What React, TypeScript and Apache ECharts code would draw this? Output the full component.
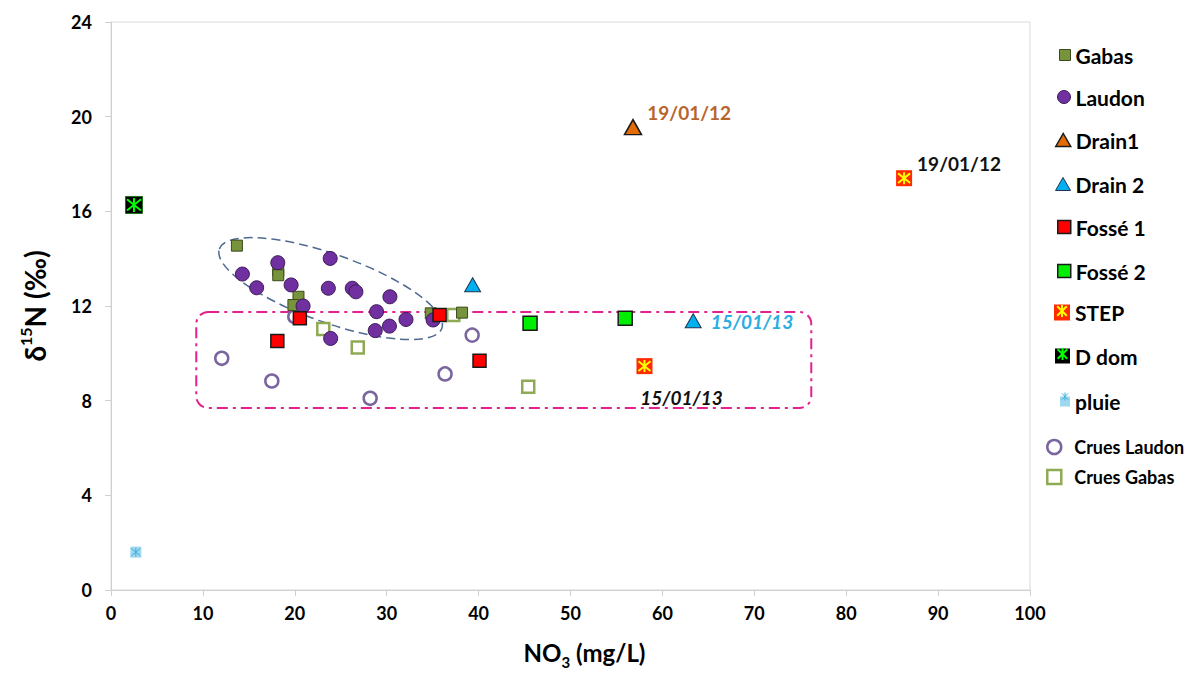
import React, { useEffect, useRef } from "react";
import * as echarts from "echarts";

// ---------- data (x = NO3 mg/L, y = δ15N ‰) ----------
const gabas = [[13.7, 14.55], [18.2, 13.5], [18.2, 13.3], [20.4, 12.39], [19.85, 12.04], [34.8, 11.69], [38.2, 11.72]];
const laudon = [
  [14.3, 13.35], [15.85, 12.77], [18.15, 13.83], [19.6, 12.89], [20.9, 12.0], [23.85, 14.01],
  [23.65, 12.75], [23.9, 10.63], [26.25, 12.75], [26.65, 12.6], [28.9, 11.76], [28.75, 10.96],
  [30.3, 11.15], [30.35, 12.39], [32.1, 11.43], [35.05, 11.41],
];
const drain1 = [[56.8, 19.56]];
const drain2 = [[39.35, 12.9], [63.35, 11.38]];
const fosse1 = [[18.1, 10.52], [20.55, 11.48], [35.75, 11.62], [40.1, 9.69]];
const fosse2 = [[45.6, 11.27], [55.95, 11.48]];
const step = [[58.05, 9.46], [86.3, 17.4]];
const dDom = [[2.5, 16.27]];
const pluie = [[2.7, 1.6]];
const cruesLaudon = [[12.05, 9.79], [17.5, 8.83], [20.0, 11.55], [28.2, 8.1], [36.35, 9.13], [39.3, 10.77]];
const cruesGabas = [[23.1, 11.03], [26.85, 10.25], [37.25, 11.62], [45.4, 8.59]];

const drain1Notes = ["19/01/12"];
const drain2Notes = ["", "15/01/13"];
const stepNotes = ["15/01/13", "19/01/12"];

const xTicks = { min: 0, max: 100, interval: 10 };
const yTicks = { min: 0, max: 24, interval: 4 };

// annotation shapes in data coordinates
const ellipseTips = [[11.8, 14.41], [36.0, 11.06]];
const boxCorners = [[9.28, 11.75], [76.2, 7.69]];

// ---------- styles ----------
const FONT = "Lato";
const ASTERISK = "path://M5,0L5,10M1,1L9,9M9,1L1,9";

type Row = { name: string; y: number; w: number; h: number; bw: number; crue?: boolean };
const legendRows: Row[] = [
  { name: "Gabas", y: 55, w: 11, h: 11, bw: 1 },
  { name: "Laudon", y: 98, w: 13, h: 13, bw: 1 },
  { name: "Drain1", y: 141, w: 15, h: 13, bw: 1.5 },
  { name: "Drain 2", y: 185, w: 15, h: 13, bw: 1 },
  { name: "Fossé 1", y: 228, w: 13, h: 13, bw: 1.5 },
  { name: "Fossé 2", y: 272, w: 13, h: 13, bw: 1.5 },
  { name: "STEP", y: 315, w: 16, h: 16, bw: 0 },
  { name: "D dom", y: 358, w: 15, h: 15, bw: 0 },
  { name: "pluie", y: 401, w: 10, h: 10, bw: 0 },
  { name: "Crues Laudon", y: 446, w: 14, h: 14, bw: 2.5, crue: true },
  { name: "Crues Gabas", y: 476, w: 14, h: 14, bw: 2.5, crue: true },
];
const overlayRows = [
  { name: "STEP*", base: "STEP", w: 12, h: 12 },
  { name: "D dom*", base: "D dom", w: 12, h: 12 },
  { name: "pluie*", base: "pluie", w: 8, h: 8 },
];
const LEGEND_SHIFT = -5;

function buildLegends() {
  const legends: any[] = [];
  legendRows.forEach((r) => {
    const textStart = r.crue ? 1073 : 1075;
    const left = r.crue ? 1046 : textStart - 5 - r.w;
    legends.push({
      data: [r.name],
      orient: "vertical",
      left,
      top: r.y - r.h / 2 + (r.crue ? -1 : LEGEND_SHIFT),
      padding: 0,
      itemWidth: r.w,
      itemHeight: r.h,
      selectedMode: false,
      itemStyle: { borderWidth: r.bw },
      textStyle: {
        fontFamily: FONT,
        fontWeight: "bold",
        fontSize: r.crue ? 18 : 21,
        color: "#000",
        padding: r.crue ? [0, 0, 0, 8] : 0,
      },
    });
  });
  overlayRows.forEach((o) => {
    const r = legendRows.find((x) => x.name === o.base)!;
    const left = 1075 - 5 - r.w + (r.w - o.w) / 2;
    legends.push({
      data: [o.name],
      left,
      top: r.y - o.h / 2 + LEGEND_SHIFT,
      padding: 0,
      itemWidth: o.w,
      itemHeight: o.h,
      selectedMode: false,
      formatter: () => "",
      itemStyle: { borderWidth: o.base === "pluie" ? 1 : 2 },
      textStyle: { fontSize: 1 },
    });
  });
  return legends;
}

const noteStyle = { fontFamily: FONT, fontWeight: "bold" as const, fontSize: 19 };

function withNotes(data: number[][], notes: string[], cfg: any[]) {
  return data.map((d, i) =>
    notes[i]
      ? { value: d, label: { show: true, formatter: notes[i], ...noteStyle, ...cfg[i] } }
      : { value: d }
  );
}

function buildOption(): any {
  return {
    animation: false,
    backgroundColor: "#ffffff",
    grid: {
      left: 111,
      right: 162,
      top: 22,
      bottom: 83,
      outerBoundsMode: "none",
      containLabel: false,
      show: true,
      borderColor: "#d9d9d9",
      borderWidth: 1,
      backgroundColor: "transparent",
    },
    legend: buildLegends(),
    xAxis: {
      type: "value",
      ...xTicks,
      name: "{a|NO}{s|3}{a| (mg/L)}",
      nameLocation: "middle",
      nameGap: 46,
      nameTextStyle: {
        padding: [0, 0, 0, 28],
        rich: {
          a: { fontFamily: FONT, fontWeight: "bold", fontSize: 24, color: "#000", lineHeight: 28, verticalAlign: "bottom" },
          s: { fontFamily: FONT, fontWeight: "bold", fontSize: 15, color: "#000", lineHeight: 14, verticalAlign: "bottom", padding: [0, 0, -5, 0] },
        },
      },
      splitLine: { show: false },
      axisLine: { show: true, lineStyle: { color: "#d0d0d0", width: 1 } },
      axisTick: { show: true, inside: false, length: 6, lineStyle: { color: "#d0d0d0" } },
      axisLabel: { fontFamily: FONT, fontWeight: "bold", fontSize: 18, color: "#000", margin: 14 },
    },
    yAxis: {
      type: "value",
      ...yTicks,
      name: "{a|δ}{s|15}{a|N (‰)}",
      nameLocation: "middle",
      nameGap: 62,
      nameRotate: 90,
      nameTextStyle: {
        rich: {
          a: { fontFamily: FONT, fontWeight: "bold", fontSize: 28, color: "#000", lineHeight: 32, verticalAlign: "bottom" },
          s: { fontFamily: FONT, fontWeight: "bold", fontSize: 16, color: "#000", lineHeight: 16, verticalAlign: "top", padding: [0, 0, 12, 0] },
        },
      },
      splitLine: { show: false },
      axisLine: { show: true, lineStyle: { color: "#d0d0d0", width: 1 } },
      axisTick: { show: true, inside: false, length: 6, lineStyle: { color: "#d0d0d0" } },
      axisLabel: { fontFamily: FONT, fontWeight: "bold", fontSize: 18, color: "#000", margin: 19 },
    },
    series: [
      {
        name: "Crues Laudon", type: "scatter", data: cruesLaudon, symbol: "circle", symbolSize: 13, z: 2,
        itemStyle: { color: "#ffffff", borderColor: "#7A659E", borderWidth: 2.5, opacity: 1 },
      },
      {
        name: "Crues Gabas", type: "scatter", data: cruesGabas, symbol: "rect", symbolSize: 12, z: 2,
        itemStyle: { color: "#ffffff", borderColor: "#8FAA55", borderWidth: 2.5, opacity: 1 },
      },
      {
        name: "Gabas", type: "scatter", data: gabas, symbol: "rect", symbolSize: 11, z: 3,
        itemStyle: { color: "#77933C", borderColor: "#3b4a1c", borderWidth: 1, opacity: 1 },
      },
      {
        name: "Laudon", type: "scatter", data: laudon, symbol: "circle", symbolSize: 14, z: 3,
        itemStyle: { color: "#7030A0", borderColor: "#3d1a5a", borderWidth: 1, opacity: 1 },
      },
      {
        name: "Drain1", type: "scatter", symbol: "triangle", symbolSize: [17, 15], z: 3,
        data: withNotes(drain1, drain1Notes, [{ position: "right", distance: 5, offset: [0, -15], color: "#B8652B" }]),
        itemStyle: { color: "#E36C09", borderColor: "#1a1a1a", borderWidth: 1.5, opacity: 1 },
      },
      {
        name: "Drain 2", type: "scatter", symbol: "triangle", symbolSize: [16, 14], z: 3,
        data: withNotes(drain2, drain2Notes, [{}, { position: "right", distance: 9, offset: [0, 1], color: "#2AADE2", fontStyle: "italic" }]),
        itemStyle: { color: "#00B0F0", borderColor: "#1f3550", borderWidth: 1, opacity: 1 },
      },
      {
        name: "Fossé 1", type: "scatter", data: fosse1, symbol: "rect", symbolSize: 13, z: 4,
        itemStyle: { color: "#FF0000", borderColor: "#1a1a1a", borderWidth: 1.5, opacity: 1 },
      },
      {
        name: "Fossé 2", type: "scatter", data: fosse2, symbol: "rect", symbolSize: 14, z: 3,
        itemStyle: { color: "#00EE00", borderColor: "#1a1a1a", borderWidth: 1.5, opacity: 1 },
      },
      {
        name: "STEP", type: "scatter", symbol: "rect", symbolSize: 16, z: 3,
        data: withNotes(step, stepNotes, [
          { position: "bottom", distance: 14, offset: [37, 0], color: "#111", fontStyle: "italic" },
          { position: "right", distance: 5, offset: [0, -15], color: "#111" },
        ]),
        itemStyle: { color: "#FF2A00", borderWidth: 0, opacity: 1 },
      },
      {
        name: "STEP*", type: "scatter", data: step, symbol: ASTERISK, symbolSize: 12, z: 5, silent: true,
        itemStyle: { color: "rgba(0,0,0,0)", borderColor: "#FFFF00", borderWidth: 2, opacity: 1 },
      },
      {
        name: "D dom", type: "scatter", data: dDom, symbol: "rect", symbolSize: 17, z: 3,
        itemStyle: { color: "#000000", borderColor: "#1f6e1f", borderWidth: 1, opacity: 1 },
      },
      {
        name: "D dom*", type: "scatter", data: dDom, symbol: ASTERISK, symbolSize: 14, z: 5, silent: true,
        itemStyle: { color: "rgba(0,0,0,0)", borderColor: "#00FF00", borderWidth: 2, opacity: 1 },
      },
      {
        name: "pluie", type: "scatter", data: pluie, symbol: "rect", symbolSize: 11, z: 3,
        itemStyle: { color: "#9ED8F0", borderWidth: 0, opacity: 1 },
      },
      {
        name: "pluie*", type: "scatter", data: pluie, symbol: ASTERISK, symbolSize: 9, z: 5, silent: true,
        itemStyle: { color: "rgba(0,0,0,0)", borderColor: "#3BAFD9", borderWidth: 1, opacity: 1 },
      },
    ],
  };
}

export default function App() {
  const ref = useRef<HTMLDivElement>(null);
  useEffect(() => {
    document.body.style.margin = "0";
    const chart = echarts.init(ref.current!, null, { renderer: "svg" });
    chart.setOption(buildOption());

    const px = (d: number[]) => chart.convertToPixel({ gridIndex: 0 }, d) as number[];
    const [a, b] = ellipseTips.map(px);
    const cx = (a[0] + b[0]) / 2;
    const cy = (a[1] + b[1]) / 2;
    const rx = Math.hypot(b[0] - a[0], b[1] - a[1]) / 2;
    const ang = Math.atan2(b[1] - a[1], b[0] - a[0]);
    const r1 = px(boxCorners[0]);
    const r2 = px(boxCorners[1]);

    chart.setOption({
      graphic: [
        {
          type: "ellipse",
          x: cx,
          y: cy,
          rotation: -ang,
          z: 1,
          silent: true,
          shape: { cx: 0, cy: 0, rx, ry: 34 },
          style: { fill: "none", stroke: "#4F6A91", lineWidth: 1.5, lineDash: [9, 5] },
        },
        {
          type: "rect",
          z: 1,
          silent: true,
          shape: {
            x: Math.min(r1[0], r2[0]),
            y: Math.min(r1[1], r2[1]),
            width: Math.abs(r2[0] - r1[0]),
            height: Math.abs(r2[1] - r1[1]),
            r: 12,
          },
          style: { fill: "none", stroke: "#E2218C", lineWidth: 2, lineDash: [11, 5, 3, 5] },
        },
      ],
    });
    return () => chart.dispose();
  }, []);
  return <div ref={ref} style={{ width: 1192, height: 673 }} />;
}
